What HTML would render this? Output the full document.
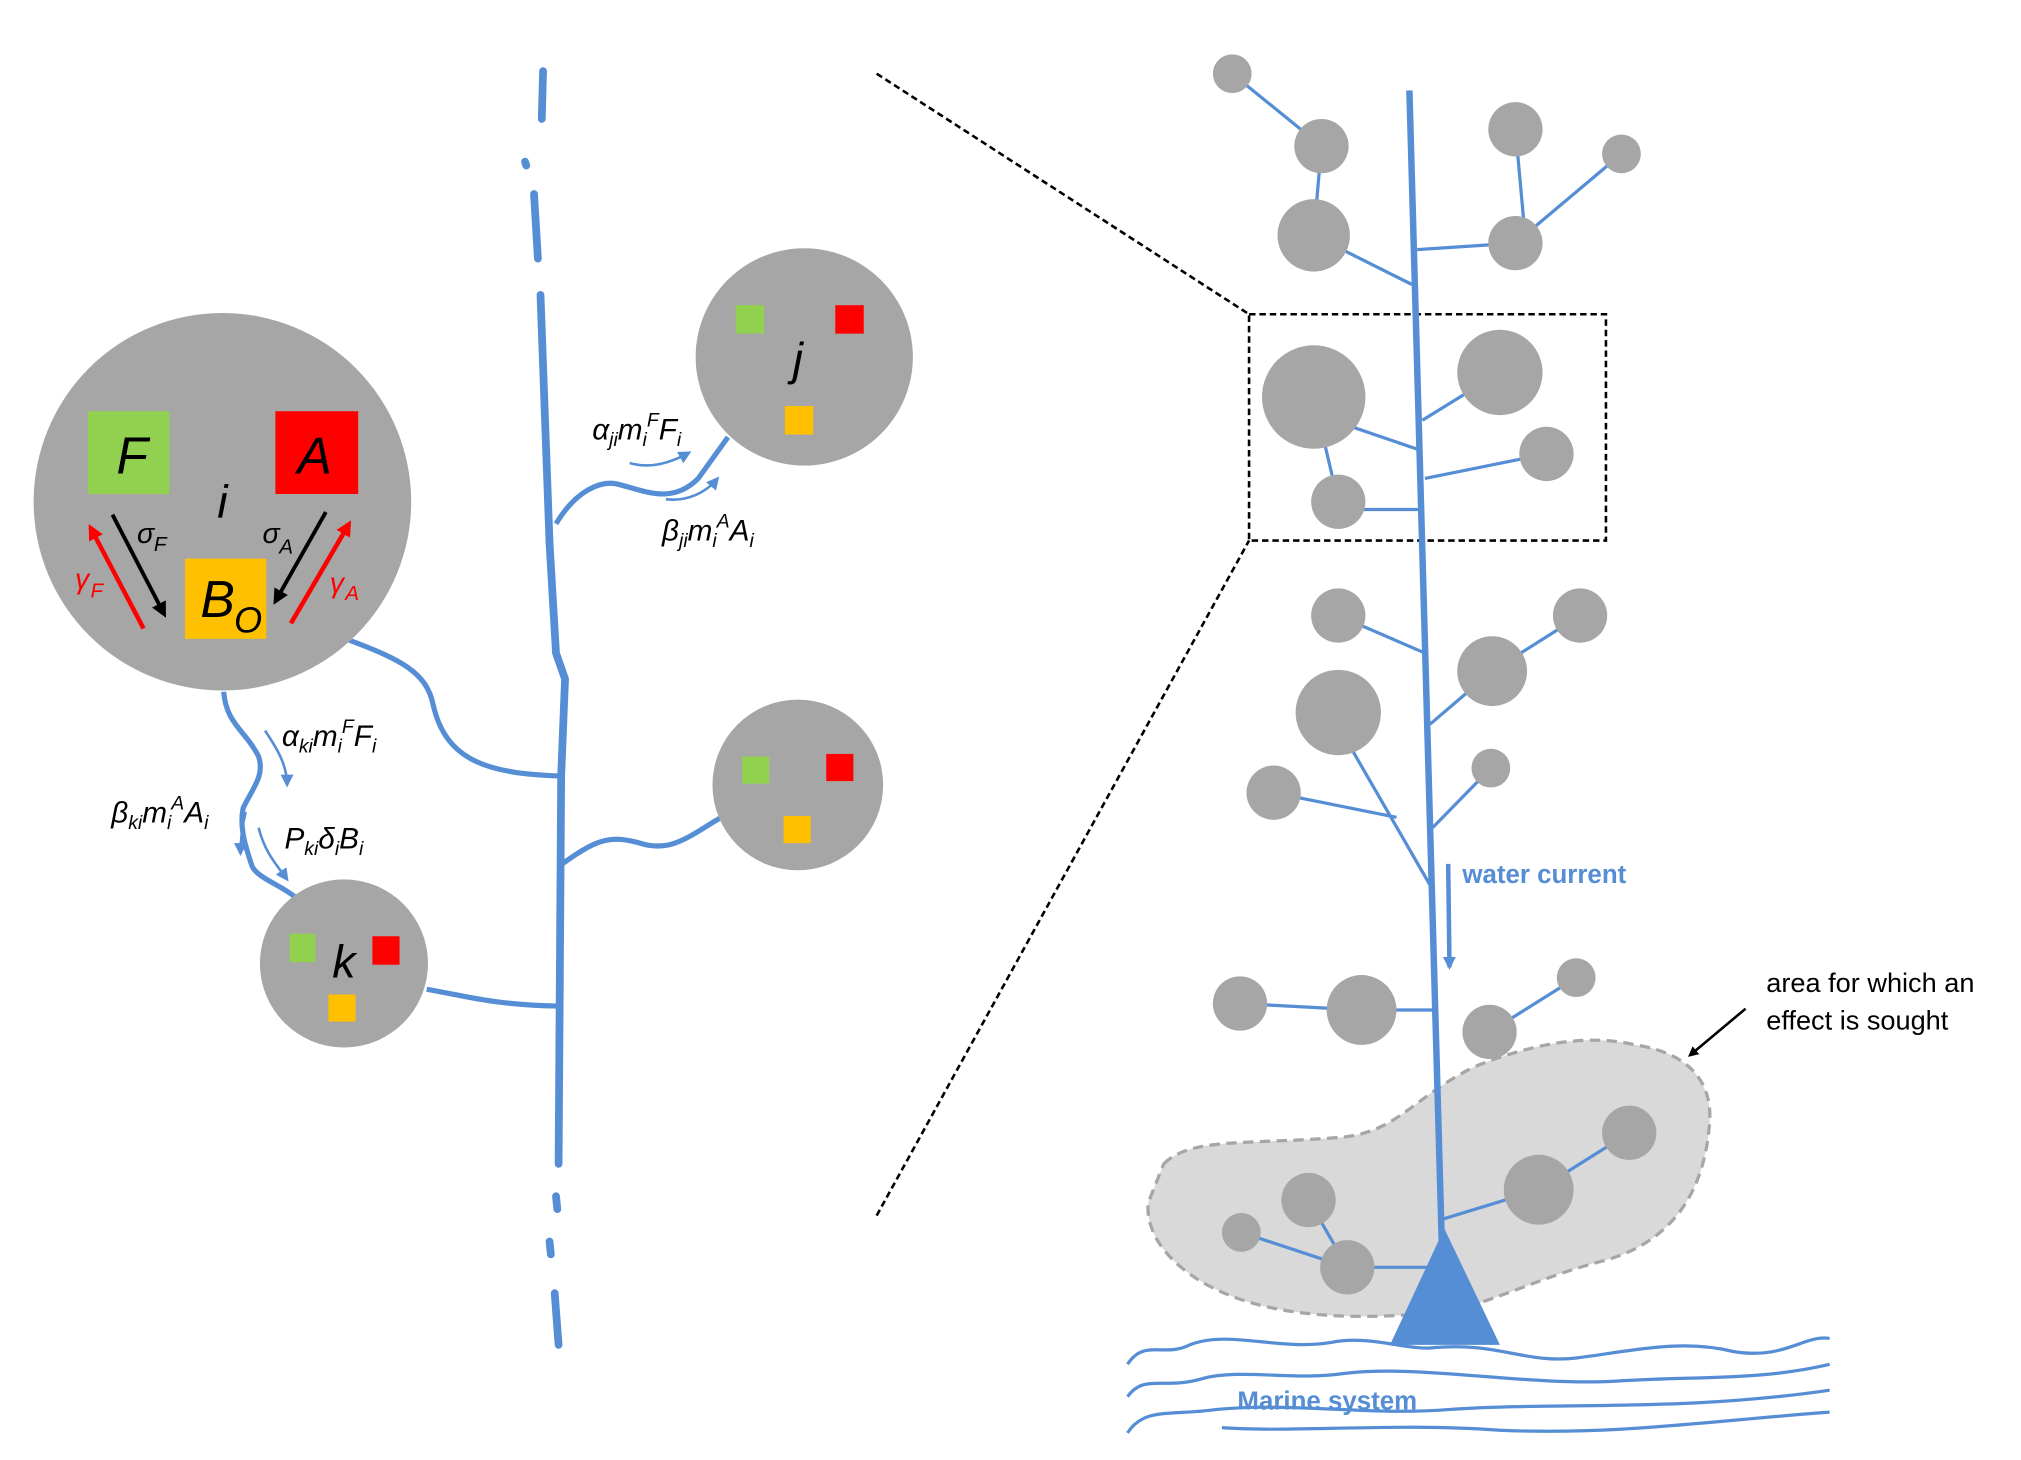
<!DOCTYPE html>
<html><head><meta charset="utf-8"><style>
html,body{margin:0;padding:0;background:#fff;}
svg{display:block;}
text{font-family:"Liberation Sans",sans-serif;}
.it{font-style:italic;}
</style></head><body>
<svg width="2021" height="1460" viewBox="0 0 1563 1129" preserveAspectRatio="none" xmlns="http://www.w3.org/2000/svg">
<defs>
<marker id="ab" markerWidth="8" markerHeight="8" refX="6" refY="4" orient="auto" markerUnits="userSpaceOnUse"><path d="M0,0 L8,4 L0,8 z" fill="#000"/></marker>
<marker id="ar" markerWidth="12" markerHeight="12" refX="9" refY="6" orient="auto" markerUnits="userSpaceOnUse"><path d="M0,0 L12,6 L0,12 z" fill="#f00"/></marker>
<marker id="ak" markerWidth="12" markerHeight="12" refX="9" refY="6" orient="auto" markerUnits="userSpaceOnUse"><path d="M0,0 L12,6 L0,12 z" fill="#000"/></marker>
<marker id="au" markerWidth="10" markerHeight="10" refX="8" refY="5" orient="auto" markerUnits="userSpaceOnUse"><path d="M0,0 L10,5 L0,10 z" fill="#558ed5"/></marker>
</defs>
<g fill="none" stroke="#558ed5" stroke-width="6" stroke-linecap="round">
<path d="M420,55 L419,92"/>
<path d="M406,125 L407,128"/>
<path d="M413,150 L416,200"/>
<path d="M418,228 L425,420 L430,505 L437,525 L434,600 L432,900"/>
<path d="M430,925 L431,935"/>
<path d="M425,960 L426,970"/>
<path d="M429,1000 L432,1040"/>
</g>
<g fill="none" stroke="#558ed5" stroke-width="4">
<path d="M430,405 C445,380 465,370 480,375 C500,380 520,390 540,370 L563,338"/>
<path d="M270,495 C310,510 330,520 335,545 C345,590 380,598 432,600"/>
<path d="M432,670 C460,650 470,645 495,652 C520,660 535,645 558,632"/>
<path d="M330,765 C360,770 380,777 432,778"/>
<path d="M173,535 C175,560 190,565 200,585 C205,600 195,610 188,625 C185,640 190,655 195,670 C200,680 220,685 232,697"/>
</g>
<g fill="none" stroke="#558ed5" stroke-width="2">
<path d="M487,358 C500,362 515,360 533,350" marker-end="url(#au)"/>
<path d="M515,386 C530,388 545,382 555,370" marker-end="url(#au)"/>
<path d="M205,565 C215,580 222,592 222,607" marker-end="url(#au)"/>
<path d="M190,628 C187,640 186,650 186,660" marker-end="url(#au)"/>
<path d="M200,640 C205,660 215,670 222,680" marker-end="url(#au)"/>
</g>
<circle cx="172" cy="388" r="146" fill="#a6a6a6"/>
<rect x="68" y="318" width="63" height="64" fill="#92d050"/>
<rect x="213" y="318" width="64" height="64" fill="#ff0000"/>
<rect x="143" y="432" width="63" height="62" fill="#ffc000"/>
<text x="90" y="366" font-size="40" class="it">F</text>
<text x="230" y="366" font-size="40" class="it">A</text>
<text x="168" y="400" font-size="36" class="it">i</text>
<text x="155" y="477" font-size="40" class="it">B</text><text x="181" y="489" font-size="28" class="it">O</text>
<line x1="87" y1="398" x2="127" y2="475" stroke="#000" stroke-width="3" marker-end="url(#ak)"/>
<line x1="111" y1="486" x2="70" y2="408" stroke="#f00" stroke-width="3.5" marker-end="url(#ar)"/>
<line x1="252" y1="396" x2="213" y2="465" stroke="#000" stroke-width="3" marker-end="url(#ak)"/>
<line x1="225" y1="482" x2="270" y2="405" stroke="#f00" stroke-width="3.5" marker-end="url(#ar)"/>
<text x="106" y="420" font-size="22" class="it">σ</text><text x="119" y="426" font-size="16" class="it">F</text>
<text x="203" y="420" font-size="22" class="it">σ</text><text x="216" y="428" font-size="16" class="it">A</text>
<text x="58" y="455" font-size="22" class="it" fill="#f00">γ</text><text x="70" y="462" font-size="16" class="it" fill="#f00">F</text>
<text x="255" y="458" font-size="22" class="it" fill="#f00">γ</text><text x="267" y="464" font-size="16" class="it" fill="#f00">A</text>
<circle cx="622" cy="276" r="84" fill="#a6a6a6"/>
<rect x="569" y="236" width="22" height="22" fill="#92d050"/>
<rect x="646" y="236" width="22" height="22" fill="#ff0000"/>
<rect x="607" y="314" width="22" height="22" fill="#ffc000"/>
<text x="613" y="290" font-size="36" class="it">j</text>
<circle cx="617" cy="607" r="66" fill="#a6a6a6"/>
<rect x="574" y="585" width="21" height="21" fill="#92d050"/>
<rect x="639" y="583" width="21" height="21" fill="#ff0000"/>
<rect x="606" y="631" width="21" height="21" fill="#ffc000"/>
<circle cx="266" cy="745" r="65" fill="#a6a6a6"/>
<rect x="224" y="722" width="20" height="22" fill="#92d050"/>
<rect x="288" y="724" width="21" height="22" fill="#ff0000"/>
<rect x="254" y="769" width="21" height="21" fill="#ffc000"/>
<text x="257" y="756" font-size="36" class="it">k</text>
<g font-size="23" class="it">
<text x="458" y="340">α<tspan font-size="15" dy="5">ji</tspan><tspan dy="-5">m</tspan><tspan font-size="15" dy="5">i</tspan><tspan font-size="15" dy="-15">F</tspan><tspan dy="10">F</tspan><tspan font-size="15" dy="5">i</tspan></text>
<text x="512" y="418">β<tspan font-size="15" dy="5">ji</tspan><tspan dy="-5">m</tspan><tspan font-size="15" dy="5">i</tspan><tspan font-size="15" dy="-15">A</tspan><tspan dy="10">A</tspan><tspan font-size="15" dy="5">i</tspan></text>
<text x="218" y="577">α<tspan font-size="15" dy="5">ki</tspan><tspan dy="-5">m</tspan><tspan font-size="15" dy="5">i</tspan><tspan font-size="15" dy="-15">F</tspan><tspan dy="10">F</tspan><tspan font-size="15" dy="5">i</tspan></text>
<text x="86" y="636">β<tspan font-size="15" dy="5">ki</tspan><tspan dy="-5">m</tspan><tspan font-size="15" dy="5">i</tspan><tspan font-size="15" dy="-15">A</tspan><tspan dy="10">A</tspan><tspan font-size="15" dy="5">i</tspan></text>
<text x="220" y="656">P<tspan font-size="15" dy="5">ki</tspan><tspan dy="-5">δ</tspan><tspan font-size="15" dy="5">i</tspan><tspan dy="-5">B</tspan><tspan font-size="15" dy="5">i</tspan></text>
</g>
<g stroke="#000" stroke-width="2" stroke-dasharray="5,3" fill="none">
<line x1="678" y1="57" x2="966" y2="243"/>
<line x1="678" y1="940" x2="966" y2="418"/>
<rect x="966" y="243" width="276" height="175"/>
</g>
<path d="M900,900 C920,880 960,885 1030,880 C1080,878 1090,850 1140,825 C1190,805 1230,800 1265,808 C1310,815 1325,840 1322,870 C1318,920 1295,960 1240,975 C1200,985 1170,1000 1130,1012 C1080,1020 1010,1022 960,1005 C915,990 885,960 888,930 Z" fill="#d9d9d9" stroke="#a6a6a6" stroke-width="2.5" stroke-dasharray="8,5"/>
<g stroke="#558ed5" stroke-width="2.5" fill="none">
<line x1="953" y1="57" x2="1022" y2="113"/><line x1="1022" y1="113" x2="1016" y2="182"/>
<line x1="1016" y1="182" x2="1092" y2="220"/><line x1="1172" y1="100" x2="1180" y2="188"/>
<line x1="1254" y1="119" x2="1172" y2="188"/><line x1="1172" y1="188" x2="1096" y2="193"/>
<line x1="1016" y1="307" x2="1035" y2="388"/><line x1="1016" y1="320" x2="1098" y2="348"/>
<line x1="1160" y1="288" x2="1100" y2="325"/><line x1="1196" y1="351" x2="1102" y2="370"/>
<line x1="1035" y1="394" x2="1098" y2="394"/>
<line x1="1035" y1="476" x2="1102" y2="505"/><line x1="1222" y1="476" x2="1154" y2="519"/>
<line x1="1154" y1="519" x2="1106" y2="560"/><line x1="1040" y1="570" x2="1108" y2="688"/>
<line x1="985" y1="613" x2="1080" y2="632"/><line x1="1153" y1="594" x2="1108" y2="640"/>
<line x1="959" y1="776" x2="1053" y2="781"/><line x1="1053" y1="781" x2="1112" y2="781"/>
<line x1="1219" y1="756" x2="1152" y2="798"/>
<line x1="1260" y1="876" x2="1190" y2="920"/><line x1="1190" y1="920" x2="1115" y2="943"/>
<line x1="960" y1="953" x2="1042" y2="980"/><line x1="1012" y1="928" x2="1042" y2="980"/>
<line x1="1042" y1="980" x2="1108" y2="980"/>
</g>
<g fill="#a6a6a6">
<circle cx="953" cy="57" r="15"/><circle cx="1022" cy="113" r="21"/><circle cx="1016" cy="182" r="28"/>
<circle cx="1172" cy="100" r="21"/><circle cx="1254" cy="119" r="15"/><circle cx="1172" cy="188" r="21"/>
<circle cx="1016" cy="307" r="40"/><circle cx="1160" cy="288" r="33"/><circle cx="1196" cy="351" r="21"/>
<circle cx="1035" cy="388" r="21"/>
<circle cx="1035" cy="476" r="21"/><circle cx="1222" cy="476" r="21"/><circle cx="1154" cy="519" r="27"/>
<circle cx="1035" cy="551" r="33"/><circle cx="985" cy="613" r="21"/><circle cx="1153" cy="594" r="15"/>
<circle cx="959" cy="776" r="21"/><circle cx="1053" cy="781" r="27"/><circle cx="1152" cy="798" r="21"/>
<circle cx="1219" cy="756" r="15"/>
<circle cx="1260" cy="876" r="21"/><circle cx="1190" cy="920" r="27"/><circle cx="1012" cy="928" r="21"/>
<circle cx="960" cy="953" r="15"/><circle cx="1042" cy="980" r="21"/>
</g>
<path d="M1090,70 L1115,960" stroke="#558ed5" stroke-width="5" fill="none"/>
<path d="M1117,950 L1075,1040 L1160,1040 Z" fill="#558ed5"/>
<line x1="1120" y1="668" x2="1121" y2="748" stroke="#558ed5" stroke-width="3.5" marker-end="url(#au)"/>
<text x="1131" y="683" font-size="20" font-weight="bold" fill="#558ed5">water current</text>
<g stroke="#558ed5" stroke-width="2.5" fill="none">
<path d="M872,1055 C885,1035 900,1050 920,1040 C950,1028 990,1045 1030,1038 C1060,1032 1090,1045 1110,1042 C1160,1038 1180,1055 1220,1050 C1260,1045 1300,1035 1340,1045 C1380,1052 1395,1032 1415,1035"/>
<path d="M872,1080 C885,1062 900,1075 930,1066 C960,1058 1000,1068 1040,1062 C1100,1055 1180,1072 1250,1068 C1310,1064 1360,1068 1415,1055"/>
<path d="M872,1108 C885,1088 905,1095 940,1090 C1000,1084 1060,1095 1120,1090 C1200,1084 1300,1092 1415,1075"/>
<path d="M945,1104 C1000,1108 1080,1100 1160,1106 C1250,1110 1330,1098 1415,1092"/>
</g>
<text x="957" y="1090" font-size="20" font-weight="bold" fill="#558ed5">Marine system</text>
<text x="1366" y="767" font-size="21">area for which an</text>
<text x="1366" y="796" font-size="21">effect is sought</text>
<line x1="1350" y1="780" x2="1307" y2="816" stroke="#000" stroke-width="2" marker-end="url(#ab)"/>
</svg>
</body></html>
